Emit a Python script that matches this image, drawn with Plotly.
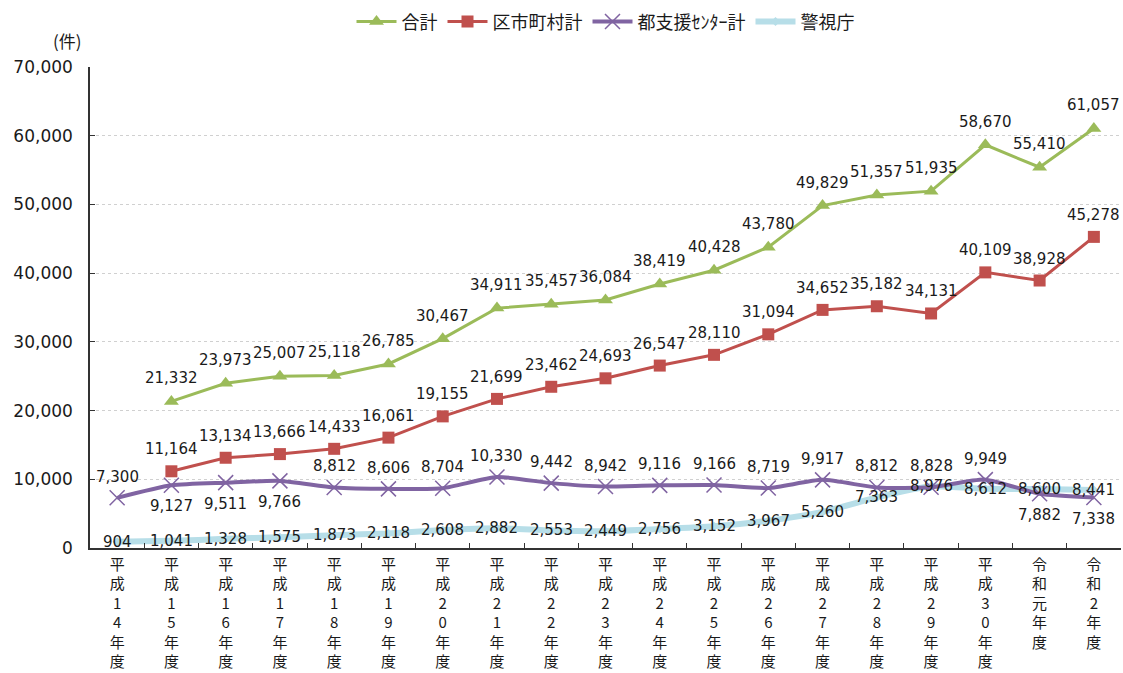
import plotly.graph_objects as go

categories = ["平成14年度", "平成15年度", "平成16年度", "平成17年度", "平成18年度", "平成19年度",
              "平成20年度", "平成21年度", "平成22年度", "平成23年度", "平成24年度", "平成25年度",
              "平成26年度", "平成27年度", "平成28年度", "平成29年度", "平成30年度", "令和元年度", "令和2年度"]
tick_labels = ["<br>".join(list(c)) for c in categories]

total = [None, 21332, 23973, 25007, 25118, 26785, 30467, 34911, 35457, 36084, 38419,
         40428, 43780, 49829, 51357, 51935, 58670, 55410, 61057]
municipal = [None, 11164, 13134, 13666, 14433, 16061, 19155, 21699, 23462, 24693, 26547,
             28110, 31094, 34652, 35182, 34131, 40109, 38928, 45278]
center = [7300, 9127, 9511, 9766, 8812, 8606, 8704, 10330, 9442, 8942, 9116,
          9166, 8719, 9917, 8812, 8828, 9949, 7882, 7338]
police = [904, 1041, 1328, 1575, 1873, 2118, 2608, 2882, 2553, 2449, 2756,
          3152, 3967, 5260, 7363, 8976, 8612, 8600, 8441]

# label placement for the 都支援センター計 series: 1 = above, -1 = below
center_side = [1, -1, -1, -1] + [1] * 13 + [-1, -1]

FONT = "DejaVu Sans, Noto Sans CJK JP, sans-serif"
CJK = "Noto Sans CJK JP, sans-serif"
LBL = dict(family=FONT, size=15, color="#1a1a1a")

fig = go.Figure()
fig.add_trace(go.Scatter(
    x=categories, y=police, name="警視庁", mode="lines+markers",
    line=dict(color="#b7dee8", width=6, shape="spline", smoothing=0.6),
    marker=dict(symbol="diamond", size=7, color="#b7dee8"), legendrank=4))
fig.add_trace(go.Scatter(
    x=categories, y=center, name="都支援ｾﾝﾀｰ計", mode="lines+markers",
    line=dict(color="#8064a2", width=4, shape="spline", smoothing=0.6),
    marker=dict(symbol="x-thin-open", size=15, color="#8064a2", line=dict(width=1.5, color="#8064a2")),
    legendrank=3))
fig.add_trace(go.Scatter(
    x=categories, y=municipal, name="区市町村計", mode="lines+markers",
    line=dict(color="#c0504d", width=3),
    marker=dict(symbol="square", size=12, color="#c0504d"), legendrank=2))
fig.add_trace(go.Scatter(
    x=categories, y=total, name="合計", mode="lines+markers",
    line=dict(color="#9bbb59", width=3),
    marker=dict(symbol="triangle-up", size=13, color="#9bbb59"), legendrank=1))

annotations = []
def add_labels(vals, shifts):
    for c, v, s in zip(categories, vals, shifts):
        if v is None:
            continue
        annotations.append(dict(x=c, y=v, xref="x", yref="y", text=f"{v:,}", showarrow=False,
                                yshift=s, font=LBL, xanchor="center", yanchor="middle"))

add_labels(total, [23] * len(categories))
add_labels(municipal, [22] * len(categories))
add_labels(center, [21 * s for s in center_side])
add_labels(police, [0] * len(categories))

annotations.append(dict(text="(件)", xref="paper", yref="paper", x=-0.022, y=1.056,
                        xanchor="center", yanchor="middle", showarrow=False,
                        font=dict(family=CJK, size=17, color="#1a1a1a")))

fig.update_layout(
    width=1123, height=673,
    margin=dict(l=90, r=2, t=67, b=125),
    paper_bgcolor="white", plot_bgcolor="white",
    font=dict(family=FONT, size=15, color="#1a1a1a"),
    showlegend=True,
    legend=dict(orientation="h", x=0.5, xanchor="center", y=1.094, yanchor="middle",
                font=dict(family=CJK, size=18, color="#1a1a1a"), traceorder="normal",
                itemwidth=40),
    xaxis=dict(type="category", range=[-0.5, 18.5], tickvals=categories, ticktext=tick_labels,
               tickson="boundaries", ticks="inside", ticklen=5, tickcolor="#333",
               showline=True, linecolor="#333", linewidth=1.5, showgrid=False, automargin=False,
               ticklabelstandoff=2,
               tickfont=dict(family=CJK, size=15, color="#1a1a1a")),
    yaxis=dict(range=[0, 70000], tickvals=list(range(0, 70001, 10000)), tickformat=",",
               ticks="inside", ticklen=5, tickcolor="#333",
               showline=True, linecolor="#333", linewidth=1.5, automargin=False,
               ticklabelstandoff=12,
               showgrid=True, gridcolor="#d0d0d0", griddash="dot", gridwidth=1,
               zeroline=False, tickfont=dict(family=FONT, size=17, color="#1a1a1a")),
    annotations=annotations,
)

fig.write_html("out.html", config={"displayModeBar": False},
               post_script="document.body.style.margin='0';document.body.style.overflow='hidden';")
